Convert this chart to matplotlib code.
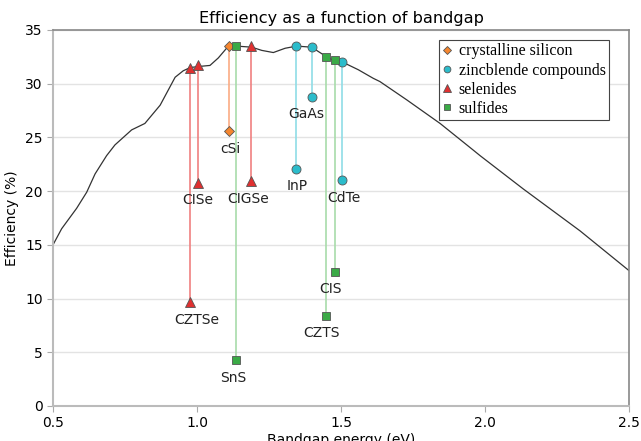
import matplotlib
matplotlib.use("Agg")
import matplotlib.pyplot as plt
import numpy as np

# Shockley-Queisser style limit curve
curve_x = [0.50, 0.53, 0.582, 0.617, 0.646, 0.686, 0.715, 0.773, 0.819, 0.872, 0.924, 0.952,
           0.976, 1.005, 1.045, 1.074, 1.109, 1.137, 1.19, 1.225, 1.265, 1.306, 1.346, 1.398,
           1.45, 1.479, 1.506, 1.56, 1.612, 1.635, 1.728, 1.844, 1.96, 1.983, 2.133, 2.33, 2.50]
curve_y = [15.0, 16.5, 18.4, 19.9, 21.6, 23.3, 24.3, 25.7, 26.3, 28.0, 30.6, 31.2,
           31.5, 31.6, 31.7, 32.4, 33.5, 33.5, 33.4, 33.1, 32.9, 33.3, 33.5, 33.4,
           32.5, 32.1, 32.0, 31.3, 30.5, 30.2, 28.5, 26.3, 23.8, 23.3, 20.2, 16.3, 12.6]

# Materials
names    = ["cSi", "InP", "GaAs", "CdTe", "CZTSe", "CISe", "CIGSe", "SnS", "CZTS", "CIS"]
groups   = ["crystalline silicon", "zincblende compounds", "zincblende compounds", "zincblende compounds",
            "selenides", "selenides", "selenides", "sulfides", "sulfides", "sulfides"]
bandgaps = [1.11, 1.345, 1.40, 1.505, 0.977, 1.003, 1.188, 1.135, 1.448, 1.479]
limits   = [33.5, 33.5, 33.4, 32.0, 31.5, 31.7, 33.5, 33.5, 32.5, 32.2]
records  = [25.6, 22.1, 28.8, 21.0, 9.7, 20.8, 20.9, 4.3, 8.4, 12.5]
label_dx = [0.005, 0.003, -0.02, 0.005, 0.022, 0.0, -0.01, -0.01, -0.017, -0.017]

group_order = ["crystalline silicon", "zincblende compounds", "selenides", "sulfides"]
group_marker = {"crystalline silicon": "D", "zincblende compounds": "o", "selenides": "^", "sulfides": "s"}
group_size = {"crystalline silicon": 5.5, "zincblende compounds": 6.5, "selenides": 7, "sulfides": 6}
group_color = {"crystalline silicon": "#f5862f", "zincblende compounds": "#2bbccb",
               "selenides": "#e03030", "sulfides": "#3aaa46"}
line_color = {"crystalline silicon": "#fbab84", "zincblende compounds": "#8fdde6",
              "selenides": "#f08080", "sulfides": "#a8dcaa"}

fig = plt.figure(figsize=(6.41, 4.41), dpi=100)
ax = fig.add_axes([0.0827, 0.0794, 0.8986, 0.8526])

ax.set_xlim(0.5, 2.5)
ax.set_ylim(0, 35)
ax.set_yticks(np.arange(0, 36, 5))
ax.set_xticks([0.5, 1.0, 1.5, 2.0, 2.5])
ax.yaxis.grid(True, color="#e3e3e3", linewidth=1)
ax.set_axisbelow(True)

ax.plot(curve_x, curve_y, color="#333333", linewidth=0.9, zorder=2)

for n, g, x, top, rec in zip(names, groups, bandgaps, limits, records):
    ax.plot([x, x], [rec, top], color=line_color[g], linewidth=1.2, zorder=3)

handles = {}
for n, g, x, top, rec, dx in zip(names, groups, bandgaps, limits, records, label_dx):
    h, = ax.plot([x, x], [top, rec], linestyle="none", marker=group_marker[g],
                 markersize=group_size[g], markerfacecolor=group_color[g],
                 markeredgecolor="#555555", markeredgewidth=0.6, zorder=4)
    handles[g] = h
    ax.text(x + dx, rec - 1.0, n, ha="center", va="top", fontsize=10, color="#222222")

leg = ax.legend([handles[g] for g in group_order], group_order, loc="upper right",
                bbox_to_anchor=(0.965, 0.973), prop={"family": "Liberation Serif", "size": 11.5},
                fancybox=False, framealpha=1, edgecolor="#444444", handlelength=0.6,
                handletextpad=0.4, borderpad=0.2, labelspacing=0.2, markerscale=0.75,
                borderaxespad=0.0)
leg.get_frame().set_linewidth(0.8)

ax.set_title("Efficiency as a function of bandgap", fontsize=11.6, pad=5)
ax.set_xlabel("Bandgap energy (eV)", fontsize=10, labelpad=2)
ax.set_ylabel("Efficiency (%)", fontsize=10, labelpad=4)
ax.tick_params(labelsize=10, length=4, color="#aaaaaa")

for side in ["left", "bottom"]:
    ax.spines[side].set_color("#bbbbbb")
    ax.spines[side].set_linewidth(1.5)
for side in ["top", "right"]:
    ax.spines[side].set_color("#888888")
    ax.spines[side].set_linewidth(1.2)

fig.savefig("out.png", dpi=100)
